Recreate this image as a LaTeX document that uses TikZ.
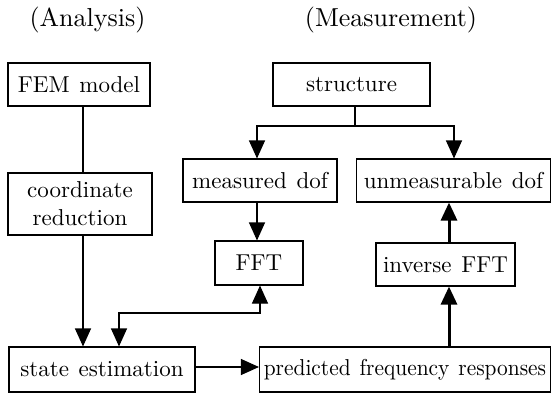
\documentclass[tikz,border=0pt]{standalone}
\usepackage{fontspec}
\usepackage{graphicx}
% text-size design of Latin Modern at every size
\setmainfont{lmroman10-regular}[Extension=.otf]
\usetikzlibrary{arrows.meta,calc}
% wider interword spacing for the labels
\newcommand\widewords{\fontsize{23}{28}\selectfont\spaceskip=0.42em plus 0.1em\relax}
\begin{document}
\begin{tikzpicture}[x=1pt,y=-1pt,
  font=\widewords,
  box/.style={draw,line width=1.1pt,inner sep=0pt,align=center},
  title/.style={inner sep=0pt,font=\widewords\fontsize{26}{30}\selectfont},
  tip/.tip={Triangle[length=18pt,width=16pt]},
  link/.style={line width=1.1pt},
  flow/.style={line width=1.1pt,-tip},
  bold/.style={line width=3pt,-tip},
  both/.style={line width=1.1pt,tip-tip}]
\useasboundingbox (0,0) rectangle (552,394);

% column headings
\node[title] (ha) at (87.5,20) {(Analysis)};
\node[title] (hm) at (391,20) {(Measurement)};

% analysis column
\node[box,minimum width=142pt,minimum height=43pt] (fem) at (79,84.5) {FEM model};
\node[box,minimum width=144pt,minimum height=62pt] (coord) at (80,204) {coordinate\\reduction};
\node[box,minimum width=186pt,minimum height=45pt] (state) at (102,369.5) {state estimation};

% measurement column
\node[box,minimum width=157pt,minimum height=43pt] (struct) at (351.5,84.5) {structure};
\node[box,minimum width=154pt,minimum height=43pt] (meas) at (260,180.5) {measured dof};
\node[box,minimum width=194pt,minimum height=43pt] (unmeas) at (453.5,180.5) {unmeasurable dof};
\node[box,minimum width=88pt,minimum height=44pt] (fft) at (259,263) {FFT};
\node[box,minimum width=139pt,minimum height=43pt] (ifft) at (445.5,264.5) {inverse FFT};
\node[box,minimum width=291pt,minimum height=45pt] (pred) at (405,369.5)
  {\scalebox{0.93}[1]{predicted frequency responses}};

% split point below the structure
\coordinate (split) at (355,126);

% connectors
\draw[link] (83,0 |- fem.south) -- (83,0 |- coord.north);
\draw[flow] (83,0 |- coord.south) -- (83,0 |- state.north);
\draw[link] (split |- struct.south) -- (split);
\draw[flow] (split) -| (257,0 |- meas.north);
\draw[flow] (split) -| (454,0 |- unmeas.north);
\draw[flow] (257,0 |- meas.south) -- (257,0 |- fft.north);
\draw[both] (260,0 |- fft.south) |- (119,313) -- (119,0 |- state.north);
\draw[flow] (state.east |- 0,367) -- (pred.west |- 0,367);
\draw[bold] (449,0 |- pred.north) -- (449,0 |- ifft.south);
\draw[bold] (449,0 |- ifft.north) -- (449,0 |- unmeas.south);
\end{tikzpicture}
\end{document}
